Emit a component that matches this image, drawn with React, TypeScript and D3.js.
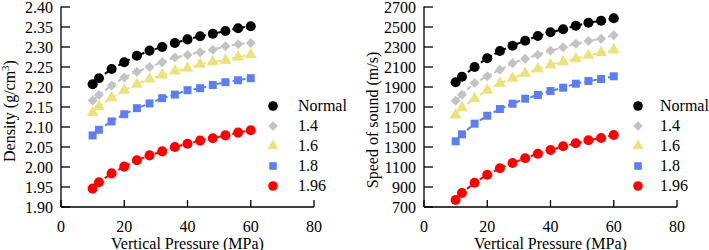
import React from "react";
import * as d3 from "d3";

const pressures = [10, 12, 16, 20, 24, 28, 32, 36, 40, 44, 48, 52, 56, 60];
const seriesNames = ["Normal", "1.4", "1.6", "1.8", "1.96"];
const seriesColors = ["#000000", "#c3c3c3", "#ece27c", "#5d7ef2", "#ff0000"];
const seriesShapes = ["circle", "diamond", "triangle", "square", "circle"];

const densityNormal = [2.207, 2.222, 2.245, 2.262, 2.278, 2.291, 2.300, 2.310, 2.319, 2.327, 2.333, 2.340, 2.347, 2.352];
const density14 = [2.166, 2.180, 2.204, 2.224, 2.238, 2.250, 2.262, 2.274, 2.280, 2.287, 2.293, 2.302, 2.307, 2.310];
const density16 = [2.136, 2.151, 2.173, 2.192, 2.207, 2.220, 2.230, 2.240, 2.247, 2.257, 2.263, 2.267, 2.275, 2.281];
const density18 = [2.079, 2.093, 2.114, 2.132, 2.147, 2.159, 2.172, 2.181, 2.192, 2.197, 2.205, 2.212, 2.217, 2.222];
const density196 = [1.946, 1.962, 1.984, 2.001, 2.017, 2.029, 2.039, 2.050, 2.058, 2.066, 2.072, 2.079, 2.086, 2.092];

const speedNormal = [1947, 2003, 2100, 2187, 2260, 2313, 2363, 2410, 2447, 2477, 2513, 2543, 2563, 2587];
const speed14 = [1763, 1823, 1940, 2007, 2073, 2137, 2183, 2223, 2263, 2297, 2333, 2360, 2383, 2417];
const speed16 = [1620, 1693, 1783, 1867, 1937, 1987, 2037, 2080, 2120, 2153, 2183, 2217, 2243, 2270];
const speed18 = [1357, 1427, 1533, 1613, 1680, 1733, 1783, 1820, 1860, 1893, 1933, 1960, 1980, 2007];
const speed196 = [770, 840, 943, 1023, 1087, 1140, 1187, 1233, 1270, 1307, 1337, 1367, 1390, 1420];

const xTicks = [0, 20, 40, 60, 80];
const densityTicks = [1.9, 1.95, 2.0, 2.05, 2.1, 2.15, 2.2, 2.25, 2.3, 2.35, 2.4];
const speedTicks = [700, 900, 1100, 1300, 1500, 1700, 1900, 2100, 2300, 2500, 2700];

const textStyle: React.CSSProperties = {
  fontFamily: '"Liberation Serif", "Times New Roman", "DejaVu Serif", serif',
  fontSize: "16px",
};

function Marker({ shape, x, y, color, scale = 1 }: { shape: string; x: number; y: number; color: string; scale?: number }) {
  let d = "";
  let rot = 0;
  if (shape === "circle") d = d3.symbol().type(d3.symbolCircle).size(80 * scale)()!;
  else if (shape === "diamond") { d = d3.symbol().type(d3.symbolSquare).size(50 * scale)()!; rot = 45; }
  else if (shape === "triangle") d = d3.symbol().type(d3.symbolTriangle).size(62 * scale)()!;
  else d = d3.symbol().type(d3.symbolSquare).size(64 * scale)()!;
  return <path d={d} transform={`translate(${x},${y}) rotate(${rot})`} fill={color} />;
}

function Panel({
  left, yTicks, yDomain, data, yTitle, fmt, legendX, legendGap, titleY,
}: {
  left: number; yTicks: number[]; yDomain: [number, number]; data: number[][]; yTitle: React.ReactNode;
  fmt: (v: number) => string; legendX: number; legendGap: number; titleY: number;
}) {
  const x = d3.scaleLinear().domain([0, 80]).range([left, left + 253]);
  const y = d3.scaleLinear().domain(yDomain).range([207, 7]);
  const line = d3.line<number>().x((_, i) => x(pressures[i])).y((v) => y(v));
  return (
    <g>
      <line x1={x(0)} x2={x(0)} y1={y(yDomain[1]) - 0.5} y2={207} stroke="#000" strokeWidth={1.3} />
      <line x1={x(0)} x2={x(80)} y1={207} y2={207} stroke="#000" strokeWidth={1.3} />
      {yTicks.map((t) => (
        <g key={t}>
          <line x1={x(0)} x2={x(0) + 9} y1={y(t)} y2={y(t)} stroke="#000" strokeWidth={1.3} />
          <text x={x(0) - 8} y={y(t) + 5.5} textAnchor="end" style={textStyle}>{fmt(t)}</text>
        </g>
      ))}
      {xTicks.map((t) => (
        <g key={t}>
          <line x1={x(t)} x2={x(t)} y1={207} y2={200} stroke="#000" strokeWidth={1.3} />
          <text x={x(t)} y={232} textAnchor="middle" style={textStyle}>{t}</text>
        </g>
      ))}
      <text x={x(40)} y={248.5} textAnchor="middle" style={textStyle}>Vertical Pressure (MPa)</text>
      <text transform={`translate(${left - 46},${titleY}) rotate(-90)`} textAnchor="middle" style={textStyle}>
        {yTitle}
      </text>
      {data.map((vals, si) => (
        <g key={si}>
          <path d={line(vals)!} fill="none" stroke={seriesColors[si]} strokeWidth={2} strokeDasharray="5,3" />
          {vals.map((v, i) => (
            <Marker key={i} shape={seriesShapes[si]} x={x(pressures[i])} y={y(v)} color={seriesColors[si]} />
          ))}
        </g>
      ))}
      {seriesNames.map((n, i) => (
        <g key={n}>
          <Marker shape={seriesShapes[i]} x={legendX} y={106 + i * 20} color={seriesColors[i]} scale={0.9} />
          <text x={legendX + legendGap} y={111 + i * 20} style={textStyle}>{n}</text>
        </g>
      ))}
    </g>
  );
}

export default function App() {
  return (
    <svg width={709} height={250} style={{ position: "absolute", left: 0, top: 0 }}>
      <rect width={709} height={250} fill="#fff" />
      <Panel
        left={61}
        yTicks={densityTicks}
        yDomain={[1.9, 2.4]}
        data={[densityNormal, density14, density16, density18, density196]}
        yTitle={<>Density (g/cm<tspan dy={-6} style={{ fontSize: "11px" }}>3</tspan><tspan dy={6}>)</tspan></>}
        fmt={(v) => v.toFixed(2)}
        legendX={273}
        legendGap={25}
        titleY={111}
      />
      <Panel
        left={424}
        yTicks={speedTicks}
        yDomain={[700, 2700]}
        data={[speedNormal, speed14, speed16, speed18, speed196]}
        yTitle="Speed of sound (m/s)"
        fmt={(v) => String(v)}
        legendX={638}
        legendGap={22}
        titleY={120}
      />
    </svg>
  );
}
